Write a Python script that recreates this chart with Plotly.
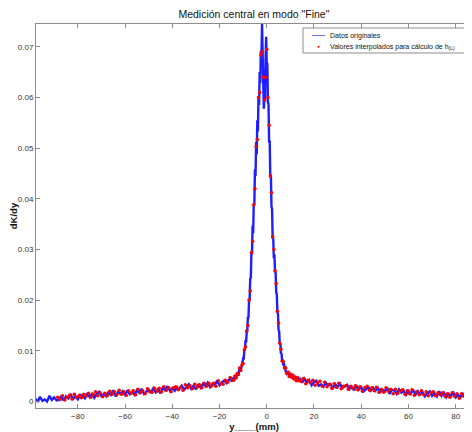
import plotly.graph_objects as go

# dK/dy values in units of 1e-4
# Blue "Datos originales": left tail x=-98..-15 step 1
blue_left_x0, blue_left_step = -98, 1
blue_left_e4 = [6, -1, 9, 1, 4, 0, 11, 3, 8, 2,
                3, 11, 2, 10, 6, 13, 5, 10, 4, 13,
                11, 6, 16, 9, 15, 7, 15, 19, 11, 15,
                10, 18, 13, 22, 10, 18, 15, 20, 13, 22,
                14, 19, 13, 22, 17, 25, 15, 20, 23, 18,
                26, 18, 24, 16, 27, 22, 30, 21, 26, 21,
                28, 24, 31, 23, 28, 34, 25, 31, 24, 34,
                27, 35, 30, 37, 28, 35, 32, 41, 32, 38,
                41, 36, 43, 41]
# peak flank x=-14.5..-10.5 step 0.5
blue_pa_x0, blue_pa_step = -14.5, 0.5
blue_pa_e4 = [47, 43, 50, 45, 54, 53, 66, 62, 72]
# peak core x=-10..8 step 0.25
blue_pb_x0, blue_pb_step = -10.0, 0.25
blue_pb_e4 = [84, 83, 102, 101, 121, 116, 136, 138, 167, 164,
              200, 201, 242, 244, 293, 290, 347, 332, 390, 388,
              458, 445, 512, 488, 555, 533, 602, 585, 650, 628,
              692, 680, 745, 660, 645, 578, 600, 592, 675, 720,
              665, 668, 590, 587, 510, 515, 442, 448, 384, 380,
              321, 322, 282, 290, 256, 255, 215, 212, 177, 173,
              141, 139, 114, 115, 94, 95, 80, 83, 71, 76,
              66, 70, 59]
# peak flank x=8.5..13.5 step 0.5
blue_pc_x0, blue_pc_step = 8.5, 0.5
blue_pc_e4 = [55, 59, 51, 56, 46, 51, 44, 50, 43, 47, 39]
# right tail x=14..87 step 1
blue_right_x0, blue_right_step = 14, 1
blue_right_e4 = [46, 37, 45, 37, 42, 32, 38, 41, 31, 34,
                 29, 37, 31, 34, 26, 34, 28, 35, 26, 30,
                 33, 24, 29, 22, 32, 23, 28, 20, 25, 28,
                 21, 27, 21, 27, 18, 23, 20, 27, 15, 23,
                 22, 15, 24, 17, 21, 13, 21, 15, 23, 13,
                 20, 14, 18, 10, 16, 20, 11, 16, 10, 20,
                 11, 17, 8, 15, 11, 17, 8, 13, 8, 15,
                 8, 13, 5, 11]

# Red "Valores interpolados": left x=-88.5..-14.5 step 1
red_left_x0, red_left_step = -88.5, 1
red_left_e4 = [8, 4, 11, 3, 8, 12, 5, 14, 8, 11,
               7, 14, 10, 16, 8, 14, 19, 11, 17, 9,
               16, 11, 20, 14, 19, 13, 22, 14, 19, 12,
               21, 16, 21, 13, 24, 17, 21, 15, 25, 19,
               18, 26, 20, 26, 19, 29, 22, 27, 19, 27,
               29, 23, 28, 22, 33, 27, 31, 25, 34, 28,
               33, 27, 36, 30, 36, 30, 36, 30, 41, 35,
               34, 42, 38, 47, 42]
# peak x=-14..13.5 step 0.5
red_peak_x0, red_peak_step = -14.0, 0.5
red_peak_e4 = [42, 50, 46, 55, 53, 66, 61, 72, 75, 102,
               108, 139, 150, 200, 218, 294, 316, 388, 420, 503,
               517, 600, 610, 684, 690, 640, 595, 640, 695, 600,
               545, 445, 412, 325, 300, 258, 233, 178, 155, 115,
               103, 80, 79, 66, 66, 55, 58, 49, 54, 48,
               52, 44, 48, 41, 47, 41]
# right x=14.5..86.5 step 1
red_right_x0, red_right_step = 14.5, 1
red_right_e4 = [40, 45, 35, 42, 37, 42, 32, 37, 40, 30,
                38, 29, 34, 26, 35, 28, 36, 25, 30, 31,
                24, 30, 26, 31, 23, 29, 20, 27, 30, 22,
                27, 21, 28, 18, 24, 18, 27, 20, 24, 15,
                24, 16, 21, 23, 14, 21, 15, 23, 12, 19,
                13, 21, 13, 19, 11, 17, 19, 11, 17, 13,
                17, 10, 15, 8, 17, 10, 15, 6, 15, 10,
                13, 8, 13]

x_ticks = [-80, -60, -40, -20, 0, 20, 40, 60, 80]
y_ticks = [0, 0.01, 0.02, 0.03, 0.04, 0.05, 0.06, 0.07]
y_tick_text = ["0", "0.01", "0.02", "0.03", "0.04", "0.05", "0.06", "0.07"]
legend_names = ["Datos originales", "Valores interpolados para cálculo de h<sub>(L)</sub>"]


def build(segments):
    xs, ys = [], []
    for x0, step, vals in segments:
        for i, v in enumerate(vals):
            xs.append(x0 + step * i)
            ys.append(v * 1e-4)
    return xs, ys


bx, by = build([(blue_left_x0, blue_left_step, blue_left_e4),
                (blue_pa_x0, blue_pa_step, blue_pa_e4),
                (blue_pb_x0, blue_pb_step, blue_pb_e4),
                (blue_pc_x0, blue_pc_step, blue_pc_e4),
                (blue_right_x0, blue_right_step, blue_right_e4)])
rx, ry = build([(red_left_x0, red_left_step, red_left_e4),
                (red_peak_x0, red_peak_step, red_peak_e4),
                (red_right_x0, red_right_step, red_right_e4)])

BLUE = "rgb(0,0,255)"
RED = "rgb(255,0,0)"
GRAY = "#8c8c8c"
FONT = "Liberation Sans, Arial"

fig = go.Figure()
fig.add_trace(go.Scatter(x=bx, y=by, mode="lines", name=legend_names[0],
                         line=dict(color=BLUE, width=2.4), opacity=0.88,
                         showlegend=False))
fig.add_trace(go.Scatter(x=rx, y=ry, mode="markers", name=legend_names[1],
                         marker=dict(color=RED, size=3.5, line=dict(width=0)),
                         showlegend=False))

axis_common = dict(showgrid=False, zeroline=False, showline=True, linecolor=GRAY,
                   linewidth=1, mirror="ticks", ticks="inside", ticklen=4,
                   tickcolor=GRAY, automargin=False,
                   tickfont=dict(size=8, color="#333333", family=FONT))

# manual MATLAB-style legend box (paper coordinates)
shapes = [
    dict(type="rect", xref="paper", yref="paper", x0=0.6124, x1=0.9954,
         y0=0.9245, y1=0.9896, line=dict(color=GRAY, width=1), fillcolor="white",
         layer="above"),
    dict(type="line", xref="paper", yref="paper", x0=0.6330, x1=0.6630,
         y0=0.9700, y1=0.9700, line=dict(color="rgb(110,110,255)", width=1),
         layer="above"),
    dict(type="circle", xref="paper", yref="paper", x0=0.6455, x1=0.6505,
         y0=0.9380, y1=0.9432, line=dict(width=0), fillcolor=RED, layer="above"),
]
annotations = [
    dict(text=legend_names[0], xref="paper", yref="paper", x=0.6700, y=0.9700,
         xanchor="left", yanchor="middle", showarrow=False,
         font=dict(size=7, color="#111111", family=FONT)),
    dict(text=legend_names[1], xref="paper", yref="paper", x=0.6700, y=0.9390,
         xanchor="left", yanchor="middle", showarrow=False,
         font=dict(size=7, color="#111111", family=FONT)),
]

# The page body has an 8 px margin, so the figure is sized to fit the window.
fig.update_layout(
    width=464, height=424,
    margin=dict(l=28, r=0, t=16, b=24),
    paper_bgcolor="white", plot_bgcolor="white",
    font=dict(family=FONT, color="#111111"),
    title=dict(text='Medición central en modo "Fine"', x=0.530, xanchor="center",
               y=0.986, yanchor="middle", font=dict(size=10.5, color="#111111")),
    xaxis=dict(range=[-97.7, 86.9], tickvals=x_ticks,
               title=dict(text="<b>y____(mm)</b>", font=dict(size=9.5), standoff=0),
               **axis_common),
    yaxis=dict(range=[-0.0013, 0.0745], tickvals=y_ticks, ticktext=y_tick_text,
               title=dict(text="<b>dK/dy</b>", font=dict(size=9.5), standoff=2),
               **axis_common),
    shapes=shapes,
    annotations=annotations,
    showlegend=False,
)

fig.write_html("out.html")
